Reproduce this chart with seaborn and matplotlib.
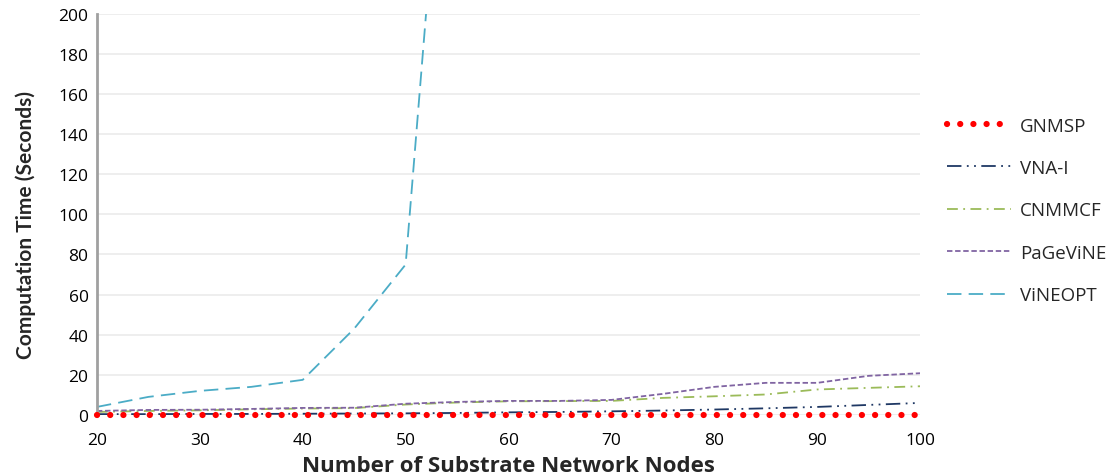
import matplotlib
matplotlib.use("Agg")
import matplotlib.pyplot as plt
import seaborn as sns
import pandas as pd

nodes = [20, 25, 30, 35, 40, 45, 50, 55, 60, 65, 70, 75, 80, 85, 90, 95, 100]
gnmsp = [0.0] * 17
vnai = [0.4, 0.4, 0.5, 0.5, 0.6, 0.7, 0.8, 1.0, 1.3, 1.5, 1.8, 2.2, 2.7, 3.3, 4.0, 5.0, 6.0]
cnmmcf = [1.5, 2.0, 2.3, 2.8, 3.2, 3.4, 5.2, 6.2, 6.8, 6.9, 7.0, 8.5, 9.3, 10.2, 12.7, 13.5, 14.3]
pagevine = [2.0, 2.5, 2.6, 3.0, 3.5, 3.6, 5.6, 6.5, 7.0, 7.0, 7.5, 10.5, 14.0, 16.0, 16.0, 19.5, 20.8]
vineopt = [4.0, 9.0, 12.0, 14.0, 17.5, 43.0, 75.0, 390.0, None, None, None, None, None, None, None, None, None]

series = ["GNMSP", "VNA-I", "CNMMCF", "PaGeViNE", "ViNEOPT"]
values = [gnmsp, vnai, cnmmcf, pagevine, vineopt]
colors = ["#FF0000", "#1F3864", "#9BBB59", "#8064A2", "#4BACC6"]
styles = [(0, (0.01, 2.1)), (0, (8, 3, 1, 3, 1, 3)), (0, (6, 3, 1, 3)), (0, (3, 1.5)), (0, (8, 4))]
widths = [4.5, 1.3, 1.3, 1.3, 1.3]

rows = []
for name, vals in zip(series, values):
    for x, v in zip(nodes, vals):
        if v is not None:
            rows.append({"nodes": x, "time": v, "series": name})
df = pd.DataFrame(rows)

sns.set_theme(style="white")
plt.rcParams["font.family"] = ["Open Sans", "DejaVu Sans"]

fig = plt.figure(figsize=(11.14, 4.77), dpi=100)
ax = fig.add_axes([0.087, 0.128, 0.739, 0.841])

for name, c, ls, lw in zip(series, colors, styles, widths):
    sub = df[df["series"] == name]
    sns.lineplot(data=sub, x="nodes", y="time", ax=ax, color=c, linewidth=lw,
                 label=name, estimator=None, sort=False)
    line = ax.lines[-1]
    line.set_linestyle(ls)
    if name == "GNMSP":
        line.set_dash_capstyle("round")
        line.set_zorder(5)
        line.set_clip_on(False)

ax.set_xlim(20, 100)
ax.set_ylim(0, 200)
ax.set_xticks(range(20, 101, 10))
ax.set_yticks(range(0, 201, 20))
ax.yaxis.grid(True, color="#EBEBEB", linewidth=1.2)
ax.xaxis.grid(False)
for s in ["top", "right", "bottom"]:
    ax.spines[s].set_visible(False)
ax.spines["left"].set_color("#A0A0A0")
ax.spines["left"].set_linewidth(2)
ax.tick_params(axis="both", length=0, labelsize=12.5, colors="black", pad=6)
ax.tick_params(axis="x", pad=12)
ax.set_xlabel("Number of Substrate Network Nodes", fontsize=16, fontweight="bold",
              family=["Open Sans", "DejaVu Sans"], labelpad=5.5)
ax.set_ylabel("Computation Time (Seconds)", fontsize=15, fontweight="bold",
              family=["Lato", "DejaVu Sans"])
ax.yaxis.set_label_coords(-0.074, 0.475)

leg = ax.legend(loc="center left", bbox_to_anchor=(1.012, 0.51), frameon=False,
                fontsize=13.5, labelspacing=1.3, handlelength=3.4, handletextpad=0.5)

fig.savefig("out.png", dpi=100)
